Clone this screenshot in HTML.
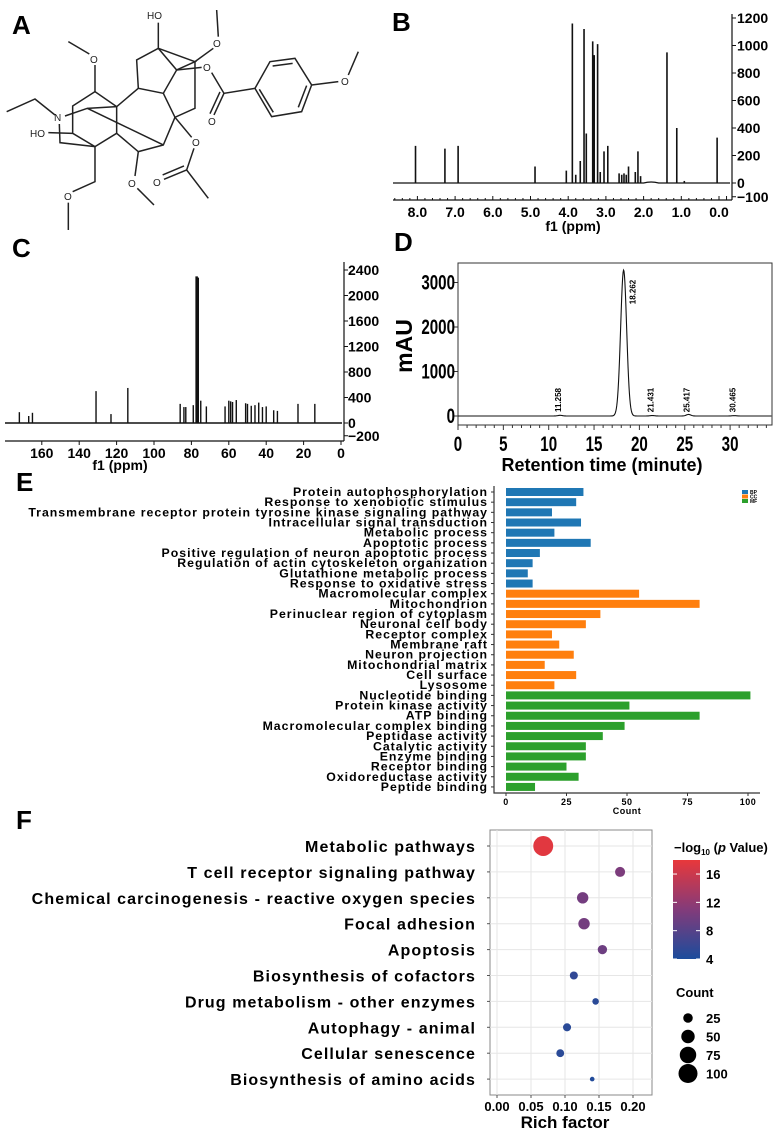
<!DOCTYPE html>
<html><head><meta charset="utf-8"><style>
html,body{margin:0;padding:0;background:#fff;}
svg{display:block;font-family:"Liberation Sans",Arial,sans-serif;}
</style></head><body>
<svg id="fig" width="781" height="1131" viewBox="0 0 781 1131" xmlns="http://www.w3.org/2000/svg">
<defs>
<linearGradient id="cbar" x1="0" y1="1" x2="0" y2="0">
<stop offset="0" stop-color="#1b4c9c"/><stop offset="0.5" stop-color="#833b7a"/><stop offset="1" stop-color="#e8383b"/>
</linearGradient>
</defs>
<g font-weight="bold" font-size="26">
<text x="12" y="34">A</text>
<text x="392" y="31">B</text>
<text x="12" y="257">C</text>
<text x="394" y="251">D</text>
<text x="16" y="491">E</text>
<text x="16" y="829">F</text>
</g>
<!-- Panel A structure -->
<g transform="scale(0.3333)" stroke="#222" stroke-width="4.5" fill="none">
<polyline points="20,335 105,297 165,345"/>
<polyline points="195,348 262,325 350,320"/>
<polygon points="218,318 285,275 350,320 350,400 285,440 218,400"/>
<polyline points="285,275 285,195"/><polyline points="268,162 205,125"/>
<line x1="262" y1="325" x2="490" y2="435"/>
<polyline points="350,320 415,265 490,280 530,210 475,145 410,180 415,265"/>
<line x1="475" y1="145" x2="475" y2="68"/>
<polyline points="475,145 585,185 530,210"/>
<line x1="585" y1="185" x2="640" y2="145"/><line x1="655" y1="110" x2="650" y2="30"/>
<polyline points="585,185 585,325 525,352 490,280"/>
<line x1="530" y1="210" x2="605" y2="202"/>
<polyline points="635,218 672,280 765,265"/>
<line x1="672" y1="280" x2="642" y2="345"/><line x1="660" y1="276" x2="630" y2="341"/>
<polygon points="765,265 810,185 885,175 935,255 905,335 815,350"/>
<line x1="818" y1="198" x2="878" y2="190"/><line x1="920" y1="257" x2="895" y2="322"/><line x1="778" y1="268" x2="820" y2="337"/>
<line x1="935" y1="255" x2="1015" y2="245"/><line x1="1045" y1="225" x2="1075" y2="155"/>
<polyline points="525,352 490,435 415,455 350,400"/>
<line x1="525" y1="352" x2="575" y2="412"/>
<polyline points="582,445 560,510 625,595"/>
<line x1="560" y1="510" x2="492" y2="538"/><line x1="552" y1="498" x2="488" y2="525"/>
<line x1="415" y1="455" x2="405" y2="528"/><line x1="412" y1="565" x2="462" y2="615"/>
<polyline points="285,440 285,545 218,575"/><line x1="205" y1="608" x2="205" y2="690"/>
<polyline points="285,440 180,428 178,372"/>
<line x1="145" y1="398" x2="218" y2="400"/>
</g>
<g font-size="10" fill="#222">
<text x="54" y="121">N</text><text x="30" y="137">HO</text><text x="147" y="19">HO</text>
<text x="90" y="63">O</text><text x="213" y="47">O</text><text x="203" y="71">O</text>
<text x="208" y="125">O</text><text x="341" y="85">O</text><text x="192" y="146">O</text>
<text x="153" y="186">O</text><text x="128" y="187">O</text><text x="64" y="200">O</text>
</g>
<g id="pB"></g><g id="pC"></g><g id="pD"></g><g id="pE"></g><g id="pF"></g>
</svg>
<script>
// ---------- Data ----------
const hShifts = [8.05,7.27,6.92,4.88,4.05,3.89,3.80,3.68,3.58,3.52,3.35,3.31,3.22,3.15,3.05,2.95,2.65,2.58,2.52,2.46,2.40,2.22,2.15,2.08,1.38,1.12,0.92,0.05];
const hHeights = [270,250,270,120,90,1160,60,160,1120,360,1030,930,1010,80,230,270,70,60,70,60,120,80,230,50,950,400,15,330];
const hTicks = [8.0,7.0,6.0,5.0,4.0,3.0,2.0,1.0,0.0];
const hYTicks = [1200,1000,800,600,400,200,0,-100];
const cShifts = [172,167,165,131,123,114,86,84,83,79,77.2,76.6,75,72,62,60,59,58,56,51,50,48,46,44,42,40,36,34,23,14];
const cHeights = [170,110,160,500,140,550,300,250,250,280,2300,2280,350,260,260,350,340,330,360,310,300,270,280,320,250,260,200,190,300,300];
const cTicks = [160,140,120,100,80,60,40,20,0];
const cYTicks = [2400,2000,1600,1200,800,400,0,-200];
const dPeakTimes = [11.258,18.262,21.431,25.417,30.465];
const dPeakHeights = [15,3280,10,35,8];
const dXTicks = [0,5,10,15,20,25,30];
const dYTicks = [3000,2000,1000,0];
const goTerms = ["Protein autophosphorylation","Response to xenobiotic stimulus","Transmembrane receptor protein tyrosine kinase signaling pathway","Intracellular signal transduction","Metabolic process","Apoptotic process","Positive regulation of neuron apoptotic process","Regulation of actin cytoskeleton organization","Glutathione metabolic process","Response to oxidative stress","Macromolecular complex","Mitochondrion","Perinuclear region of cytoplasm","Neuronal cell body","Receptor complex","Membrane raft","Neuron projection","Mitochondrial matrix","Cell surface","Lysosome","Nucleotide binding","Protein kinase activity","ATP binding","Macromolecular complex binding","Peptidase activity","Catalytic activity","Enzyme binding","Receptor binding","Oxidoreductase activity","Peptide binding"];
const goCounts = [32,29,19,31,20,35,14,11,9,11,55,80,39,33,19,22,28,16,29,20,101,51,80,49,40,33,33,25,30,12];
const goCats = ["BP","BP","BP","BP","BP","BP","BP","BP","BP","BP","CC","CC","CC","CC","CC","CC","CC","CC","CC","CC","MF","MF","MF","MF","MF","MF","MF","MF","MF","MF"];
const eTicks = [0,25,50,75,100];
const keggTerms = ["Metabolic pathways","T cell receptor signaling pathway","Chemical carcinogenesis - reactive oxygen species","Focal adhesion","Apoptosis","Biosynthesis of cofactors","Drug metabolism - other enzymes","Autophagy - animal","Cellular senescence","Biosynthesis of amino acids"];
const keggRich = [0.068,0.181,0.126,0.128,0.155,0.113,0.145,0.103,0.093,0.140];
const keggCount = [110,28,36,36,24,18,12,18,17,6];
const keggLogP = [17.5,10.5,10,10,9.5,5.5,5,5,5,4.5];
const fTicks = [0.00,0.05,0.10,0.15,0.20];
const cbTicks = [16,12,8,4];
const sizeLegend = [25,50,75,100];

const NS="http://www.w3.org/2000/svg";
function mk(tag,attrs,parent){const e=document.createElementNS(NS,tag);for(const k in attrs)e.setAttribute(k,attrs[k]);parent.appendChild(e);return e;}
function txt(s,attrs,parent){const e=mk('text',attrs,parent);e.textContent=s;return e;}

// ---------- Panel B ----------
(function(){
const g=document.getElementById('pB');
const xB=p=>719-p*37.7, yB=v=>183-v*0.1375;
let d="M393,"+yB(0)+" L"+xB(2.0)+","+yB(0)+" Q"+xB(1.8)+","+yB(15)+" "+xB(1.6)+","+yB(0)+" L730,"+yB(0);
const base=mk('path',{d:d,stroke:'#111','stroke-width':1.2,fill:'none'},g);


hShifts.forEach((p,i)=>{
const l=mk('line',{x1:xB(p),x2:xB(p),y1:yB(0),y2:yB(hHeights[i]),stroke:'#111','stroke-width':1.6},g);


});
const ax=mk('path',{d:"M393,200 L732,200 M732,14 L732,200",stroke:'#111','stroke-width':1.2,fill:'none'},g);


for(let p=8.6;p>=-0.3;p-=0.2){mk('line',{x1:xB(p),x2:xB(p),y1:200,y2:p%1<0.05||p%1>0.95?196:198,stroke:'#111','stroke-width':1},g);}
hTicks.forEach(t=>{
const e=txt(t.toFixed(1),{x:xB(t),y:217,'text-anchor':'middle','font-size':14,'font-weight':'bold'},g);


});
hYTicks.forEach(t=>{
mk('line',{x1:732,x2:736,y1:yB(t),y2:yB(t),stroke:'#111'},g);
const e=txt(t<0?'\u2212'+(-t):String(t),{x:737,y:yB(t)+5,'font-size':14,'font-weight':'bold'},g);


});
const t=txt('f1 (ppm)',{x:573,y:231,'text-anchor':'middle','font-size':14,'font-weight':'bold'},g);


})();

// ---------- Panel C ----------
(function(){
const g=document.getElementById('pC');
const xC=p=>341-p*1.87, yC=v=>423-v*0.06375;
const base=mk('line',{x1:5,x2:342,y1:yC(0),y2:yC(0),stroke:'#111','stroke-width':1.6},g);


cShifts.forEach((p,i)=>{
const l=mk('line',{x1:xC(p),x2:xC(p),y1:yC(0),y2:yC(cHeights[i]),stroke:'#111','stroke-width':p>76&&p<78?2.5:1.4},g);


});
const ax=mk('path',{d:"M5,441 L344,441 M344,262 L344,441",stroke:'#111','stroke-width':1.2,fill:'none'},g);


cTicks.forEach(t=>{
mk('line',{x1:xC(t),x2:xC(t),y1:441,y2:445,stroke:'#111'},g);
const e=txt(String(t),{x:xC(t),y:458,'text-anchor':'middle','font-size':14,'font-weight':'bold'},g);


});
cYTicks.forEach(t=>{
mk('line',{x1:344,x2:348,y1:yC(t),y2:yC(t),stroke:'#111'},g);
const e=txt(t<0?'\u2212'+(-t):String(t),{x:348,y:yC(t)+5,'font-size':14,'font-weight':'bold'},g);


});
const t=txt('f1 (ppm)',{x:120,y:470,'text-anchor':'middle','font-size':14,'font-weight':'bold'},g);


})();

// ---------- Panel D ----------
(function(){
const g=document.getElementById('pD');
const xD=t=>458+t*9.07, yD=v=>416-v*0.0445;
const box=mk('rect',{x:458,y:263,width:314,height:162,fill:'none',stroke:'#333','stroke-width':1},g);


let d="";
for(let t=0;t<=34.6;t+=0.05){let v=0;dPeakTimes.forEach((pt,i)=>{const s=i===1?0.33:0.25;v+=dPeakHeights[i]*Math.exp(-0.5*((t-pt)/s)**2);});d+=(d?"L":"M")+xD(t).toFixed(2)+","+yD(v).toFixed(2);}
const tr=mk('path',{d:d,stroke:'#111','stroke-width':1.1,fill:'none'},g);


for(let t=0;t<=34;t+=1){mk('line',{x1:xD(t),x2:xD(t),y1:425,y2:t%5===0?430:428,stroke:'#333'},g);}
dXTicks.forEach(t=>{
const e=txt(String(t),{x:xD(t),y:451,'text-anchor':'middle','font-size':21,'font-weight':'bold',transform:`translate(${xD(t)},0) scale(0.72,1) translate(${-xD(t)},0)`},g);


});
dYTicks.forEach(t=>{
mk('line',{x1:454,x2:458,y1:yD(t),y2:yD(t),stroke:'#333'},g);
const e=txt(String(t),{x:455,y:yD(t)+7,'text-anchor':'end','font-size':21,'font-weight':'bold',transform:`translate(455,0) scale(0.72,1) translate(-455,0)`},g);


});
dPeakTimes.forEach((pt,i)=>{
const yy=i===1?292:400, xx=xD(pt)+(i===1?12:1);
const e=txt(pt.toFixed(3),{x:xx,y:yy,'text-anchor':'middle','font-size':8,'font-weight':'bold',transform:`rotate(-90 ${xx} ${yy})`},g);


});
const xt=txt('Retention time (minute)',{x:602,y:471,'text-anchor':'middle','font-size':18,'font-weight':'bold'},g);


const yt=txt('mAU',{x:412,y:346,'text-anchor':'middle','font-size':23,'font-weight':'bold',transform:'rotate(-90 412 346)'},g);


})();

// ---------- Panel E ----------
(function(){
const g=document.getElementById('pE');
const xE=c=>506+c*2.42, yE=i=>492+i*10.17;
const col={BP:'#1f77b4',CC:'#ff7f0e',MF:'#2ca02c'};
goTerms.forEach((term,i)=>{
const b=mk('rect',{x:xE(0),y:yE(i)-4,width:xE(goCounts[i])-xE(0),height:8,fill:col[goCats[i]]},g);


mk('line',{x1:491,x2:494,y1:yE(i),y2:yE(i),stroke:'#333'},g);
const l=txt(term,{x:488,y:yE(i)+4,'text-anchor':'end','font-size':12.3,'font-weight':'bold','letter-spacing':1},g);


});
const ax=mk('path',{d:"M494,486 L494,793 L760,793",stroke:'#333','stroke-width':1.2,fill:'none'},g);


eTicks.forEach(t=>{
mk('line',{x1:xE(t),x2:xE(t),y1:793,y2:796,stroke:'#333'},g);
const e=txt(String(t),{x:xE(t),y:805,'text-anchor':'middle','font-size':9,'font-weight':'bold','letter-spacing':0.5},g);


});
const ct=txt('Count',{x:627,y:814,'text-anchor':'middle','font-size':9,'font-weight':'bold','letter-spacing':0.5},g);


["BP","CC","MF"].forEach((c,i)=>{
const s=mk('rect',{x:742,y:490+i*4.5,width:6,height:4,fill:col[c]},g);


const e=txt(c,{x:750,y:494+i*4.5,'font-size':5,'font-weight':'bold'},g);


});
})();

// ---------- Panel F ----------
(function(){
const g=document.getElementById('pF');
const xF=r=>497+r*680, yF=i=>846+i*25.9;
const frame=mk('rect',{x:490,y:830,width:162,height:265,fill:'#fff',stroke:'#888','stroke-width':1},g);


fTicks.forEach(t=>{mk('line',{x1:xF(t),x2:xF(t),y1:830,y2:1095,stroke:'#e6e6e6','stroke-width':1},g);});
keggTerms.forEach((k,i)=>{mk('line',{x1:490,x2:652,y1:yF(i),y2:yF(i),stroke:'#e6e6e6','stroke-width':1},g);});
function colorFor(v){const f=Math.max(0,Math.min(1,(v-4)/14));const a=[27,76,156],m=[131,59,122],b=[232,56,59];let c;if(f<0.5){const u=f/0.5;c=a.map((x,j)=>Math.round(x+(m[j]-x)*u));}else{const u=(f-0.5)/0.5;c=m.map((x,j)=>Math.round(x+(b[j]-x)*u));}return`rgb(${c})`;}
keggTerms.forEach((k,i)=>{
mk('line',{x1:487,x2:490,y1:yF(i),y2:yF(i),stroke:'#555'},g);
const l=txt(k,{x:476,y:yF(i)+6,'text-anchor':'end','font-size':16,'font-weight':'bold','letter-spacing':1.1},g);


const c=mk('circle',{cx:xF(keggRich[i]),cy:yF(i),r:0.95*Math.sqrt(keggCount[i]),fill:colorFor(keggLogP[i])},g);


});
fTicks.forEach(t=>{
mk('line',{x1:xF(t),x2:xF(t),y1:1095,y2:1098,stroke:'#555'},g);
const e=txt(t.toFixed(2),{x:xF(t),y:1111,'text-anchor':'middle','font-size':13,'font-weight':'bold'},g);


});
const xt=txt('Rich factor',{x:565,y:1128,'text-anchor':'middle','font-size':17,'font-weight':'bold'},g);


const lt=mk('text',{x:674,y:852,'font-size':13,'font-weight':'bold'},g);
lt.innerHTML='\u2212log<tspan font-size="8" dy="3">10</tspan><tspan dy="-3"> (</tspan><tspan font-style="italic">p</tspan> Value)';


const cb=mk('rect',{x:673,y:860,width:27,height:99,fill:'url(#cbar)'},g);


const yCb=v=>959-(v-4)*7.08;
cbTicks.forEach(t=>{
mk('line',{x1:673,x2:677,y1:yCb(t),y2:yCb(t),stroke:'#fff'},g);
mk('line',{x1:696,x2:700,y1:yCb(t),y2:yCb(t),stroke:'#fff'},g);
const e=txt(String(t),{x:706,y:yCb(t)+5,'font-size':13,'font-weight':'bold'},g);


});
const st=txt('Count',{x:676,y:997,'font-size':13,'font-weight':'bold'},g);


sizeLegend.forEach((s,i)=>{
const yy=1018+i*18.5;
const c=mk('circle',{cx:688,cy:yy,r:0.95*Math.sqrt(s),fill:'#000'},g);


const e=txt(String(s),{x:706,y:yy+5,'font-size':13,'font-weight':'bold'},g);


});
})();
</script>
</body></html>
